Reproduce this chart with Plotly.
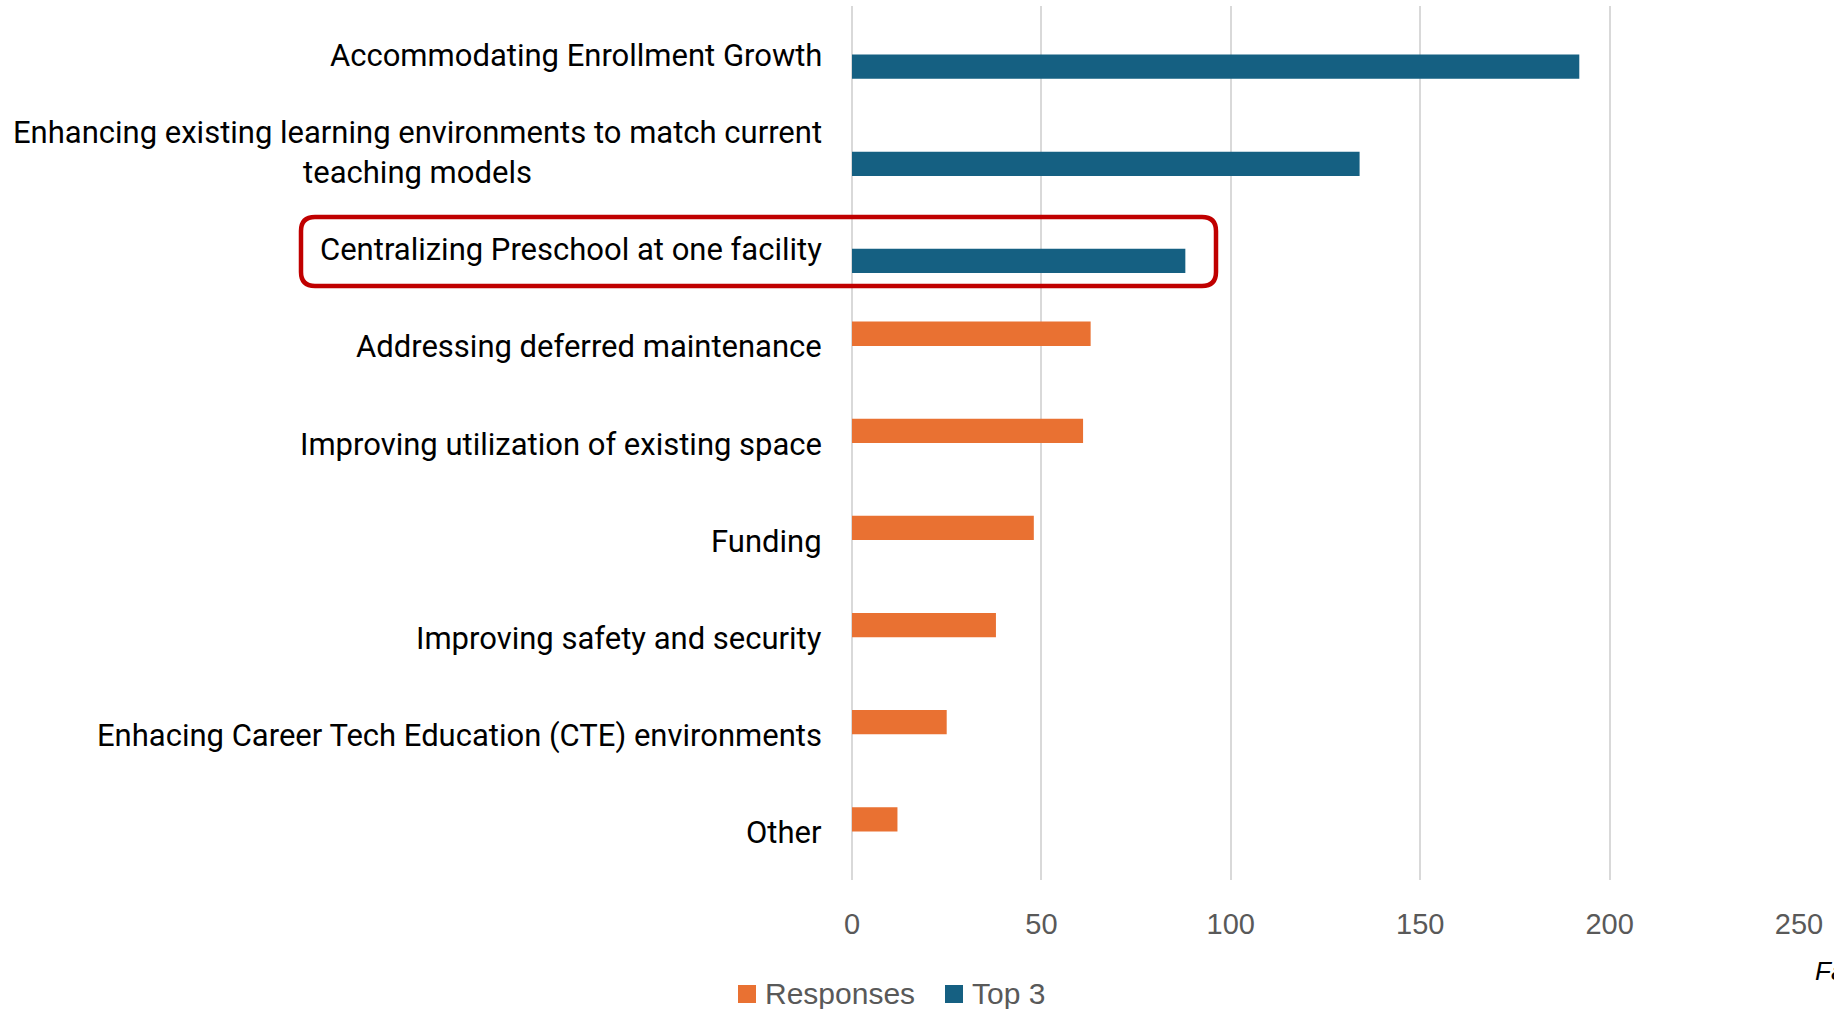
import plotly.graph_objects as go

# Survey priorities, listed top to bottom
categories = [
    "Accommodating Enrollment Growth",
    "Enhancing existing learning environments to match current<br>teaching models",
    "Centralizing Preschool at one facility",
    "Addressing deferred maintenance",
    "Improving utilization of existing space",
    "Funding",
    "Improving safety and security",
    "Enhacing Career Tech Education (CTE) environments",
    "Other",
]
responses = [None, None, None, 63, 61, 48, 38, 25, 12]
top3 = [192, 134, 88, None, None, None, None, None, None]
series_names = ["Responses", "Top 3"]
x_ticks = [0, 50, 100, 150, 200, 250]

W, H = 1834, 1009
ML, MR, MT, MB = 852, 35, 6, 129
PW, PH = W - ML - MR, H - MT - MB

ORANGE = "#E97132"
BLUE = "#156082"
GRID = "#D9D9D9"
TICK_GRAY = "#595959"
colors = [ORANGE, BLUE]


def px_to_paper(px, py):
    return (px - ML) / PW, 1 - (py - MT) / PH


fig = go.Figure()
for name, vals, col in zip(series_names, [responses, top3], colors):
    fig.add_trace(go.Bar(
        name=name, y=categories, x=vals, orientation="h",
        marker=dict(color=col, line=dict(width=0)), showlegend=False,
    ))

# Category labels, centred line by line and right-aligned against the axis
annotations = []
for cat in categories:
    annotations.append(dict(
        x=0, xref="paper", y=cat, yref="y", xshift=-28, yshift=-1,
        xanchor="right", yanchor="middle", align="center",
        text=cat, showarrow=False,
        font=dict(family="Roboto", size=31, color="#000000"),
    ))

# Source note running off the right edge
nx, ny = px_to_paper(1813, 971)
annotations.append(dict(
    x=nx, xref="paper", y=ny, yref="paper",
    xanchor="left", yanchor="middle", text="<i>Facility Survey</i>",
    showarrow=False, font=dict(family="Liberation Sans", size=26, color="#000000"),
))

shapes = []

# Legend drawn as larger swatches with labels beneath the axis
legend_left = [738, 945]
sw = 18
for name, col, lx in zip(series_names, colors, legend_left):
    x0, y0 = px_to_paper(lx, 985)
    x1, y1 = px_to_paper(lx + sw, 985 + sw)
    shapes.append(dict(type="rect", xref="paper", yref="paper",
                       x0=x0, x1=x1, y0=y1, y1=y0,
                       fillcolor=col, line=dict(width=0)))
    tx, ty = px_to_paper(lx + sw + 7, 994)
    annotations.append(dict(
        x=tx, xref="paper", y=ty, yref="paper", xanchor="left", yanchor="middle",
        text=name, showarrow=False,
        font=dict(family="Liberation Sans", size=30, color=TICK_GRAY),
    ))

# Highlight box around the preschool row, rounded corners
bx0, bx1, by0, by1, r = 301, 1216, 217, 286, 14
pts = [
    ("M", bx0 + r, by0), ("L", bx1 - r, by0), ("Q", bx1, by0, bx1, by0 + r),
    ("L", bx1, by1 - r), ("Q", bx1, by1, bx1 - r, by1), ("L", bx0 + r, by1),
    ("Q", bx0, by1, bx0, by1 - r), ("L", bx0, by0 + r), ("Q", bx0, by0, bx0 + r, by0),
]
path = ""
for p in pts:
    cmd = p[0]
    coords = p[1:]
    segs = []
    for i in range(0, len(coords), 2):
        a, b = px_to_paper(coords[i], coords[i + 1])
        segs.append(f"{a:.5f},{b:.5f}")
    path += cmd + " ".join(segs) + " "
path += "Z"
shapes.append(dict(
    type="path", xref="paper", yref="paper", path=path,
    line=dict(color="#C00000", width=4.5), fillcolor="rgba(0,0,0,0)", layer="above",
))

fig.update_layout(
    width=W, height=H,
    margin=dict(l=ML, r=MR, t=MT, b=MB, pad=0, autoexpand=False),
    paper_bgcolor="white", plot_bgcolor="white",
    barmode="group", bargap=0.5, bargroupgap=0,
    showlegend=False,
    xaxis=dict(
        range=[0, 250], tickvals=x_ticks, showgrid=True, gridcolor=GRID, gridwidth=2,
        zeroline=True, zerolinecolor=GRID, zerolinewidth=2, showline=False,
        ticks="", ticklabelstandoff=24,
        tickfont=dict(family="Liberation Sans", size=29, color=TICK_GRAY),
    ),
    yaxis=dict(
        type="category", autorange="reversed", showticklabels=False,
        showgrid=False, zeroline=False, showline=False, ticks="",
    ),
    annotations=annotations,
    shapes=shapes,
)

fig.write_html("out.html")
